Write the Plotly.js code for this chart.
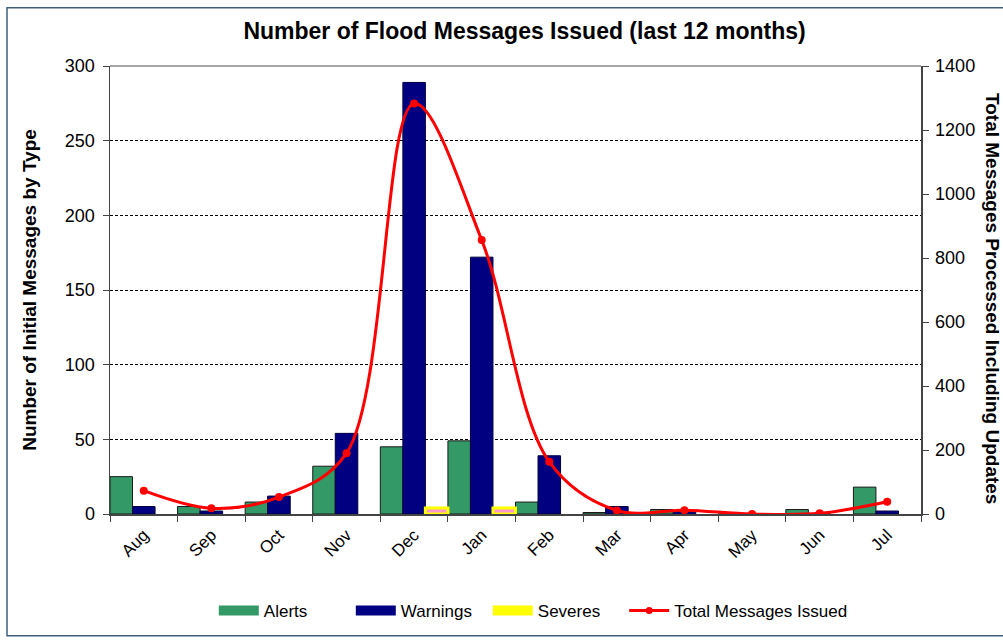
<!DOCTYPE html>
<html>
<head>
<meta charset="utf-8">
<script src="https://cdn.plot.ly/plotly-3.0.1.min.js"></script>
<style>html,body{margin:0;padding:0;background:#fff;}#chart{width:1003px;height:641px;}</style>
</head>
<body>
<div id="chart"></div>
<script>
const months = ["Aug","Sep","Oct","Nov","Dec","Jan","Feb","Mar","Apr","May","Jun","Jul"];
const alerts = [25, 5, 8, 32, 45, 49, 8, 1, 3, 0, 3, 18];
const warnings = [5, 2, 12, 54, 289, 172, 39, 5, 2, 0, 0, 2];
const severes = [0, 0, 0, 0, 4, 4, 0, 0, 0, 0, 0, 0];
const totalIssued = [73, 18, 53, 190, 1283, 856, 163, 11, 12, 0, 2, 38];
const seriesNames = ["Alerts", "Warnings", "Severes", "Total Messages Issued"];

const FONT = "Liberation Sans, Arial, sans-serif";
const GREEN = "#339966", NAVY = "#000080", PINK = "#FF99CC", YELLOW = "#FFFF00", RED = "#FF0000";

const traces = [
  {type: "bar", name: seriesNames[0], x: months, y: alerts, showlegend: false,
   marker: {color: GREEN, line: {color: "#1a1a1a", width: 1}}},
  {type: "bar", name: seriesNames[1], x: months, y: warnings, showlegend: false,
   marker: {color: NAVY, line: {color: "#000040", width: 1}}},
  {type: "bar", name: seriesNames[2], x: months, y: severes.map(v => v > 0 ? v : null), showlegend: false,
   marker: {color: PINK, line: {color: YELLOW, width: 3}}},
  {type: "scatter", mode: "lines+markers", name: seriesNames[3], x: months, y: totalIssued,
   yaxis: "y2", line: {color: RED, width: 3, shape: "spline", smoothing: 1},
   marker: {color: RED, size: 8}, showlegend: false},
  // legend entries (no marks drawn)
  {type: "scatter", mode: "lines", name: seriesNames[0], x: [months[0]], y: [null], line: {color: GREEN, width: 10}},
  {type: "scatter", mode: "lines", name: seriesNames[1], x: [months[0]], y: [null], line: {color: NAVY, width: 10}},
  {type: "scatter", mode: "lines", name: seriesNames[2], x: [months[0]], y: [null], line: {color: YELLOW, width: 10}},
  {type: "scatter", mode: "lines+markers", name: seriesNames[3], x: [months[0]], y: [null], yaxis: "y2",
   legend: "legend2", line: {color: RED, width: 3}, marker: {color: RED, size: 7}}
];

const layout = {
  width: 1003, height: 641,
  margin: {l: 110, r: 82, t: 66, b: 127},
  paper_bgcolor: "#ffffff", plot_bgcolor: "#ffffff",
  font: {family: FONT, color: "#000", size: 16},
  barmode: "group", bargap: 0, bargroupgap: 0,
  showlegend: true,
  title: {text: "<b>Number of Flood Messages Issued (last 12 months)</b>",
          font: {family: FONT, size: 23, color: "#000"},
          x: 0.523, xref: "container", xanchor: "center", y: 0.951, yref: "container", yanchor: "middle"},
  xaxis: {type: "category", range: [-0.5, 11.5], tickson: "boundaries", ticks: "outside", ticklen: 6, tickcolor: "#444",
          showline: true, linecolor: "#444", linewidth: 1.5, showgrid: false,
          tickangle: -45, tickfont: {family: FONT, size: 17}, ticklabelstandoff: 3, fixedrange: true},
  yaxis: {range: [0, 300], dtick: 50, ticks: "outside", ticklen: 6, tickcolor: "#444",
          showline: true, linecolor: "#444", linewidth: 1.5,
          showgrid: true, gridcolor: "#000", gridwidth: 1, griddash: "3px,2px",
          zeroline: false, tickfont: {family: FONT, size: 18}, ticklabelstandoff: 4,
          title: {text: "<b>Number of Initial Messages by Type</b>", font: {family: FONT, size: 19}, standoff: 23}},
  yaxis2: {range: [0, 1400], dtick: 200, overlaying: "y", side: "right", ticks: "outside", ticklen: 6, tickcolor: "#444",
           showline: true, linecolor: "#444", linewidth: 1.5, showgrid: false, zeroline: false,
           tickfont: {family: FONT, size: 18}, ticklabelstandoff: 3},
  legend: {orientation: "h", x: 0.128, xanchor: "left", y: -0.2165, yanchor: "middle",
           font: {family: FONT, size: 17}, itemwidth: 40, entrywidth: 82, traceorder: "normal"},
  legend2: {orientation: "h", x: 0.634, xanchor: "left", y: -0.2165, yanchor: "middle",
            font: {family: FONT, size: 17}, itemwidth: 40},
  annotations: [
    {text: "<b>Total Messages Processed Including Updates</b>", textangle: 90,
     xref: "paper", yref: "paper", x: 1.0875, y: 0.48, xanchor: "center", yanchor: "middle",
     showarrow: false, font: {family: FONT, size: 19, color: "#000"}}
  ],
  shapes: [
    {type: "line", xref: "paper", yref: "paper", x0: 0, x1: 1, y0: 1, y1: 1, line: {color: "#888", width: 1.5}},
    {type: "rect", xref: "paper", yref: "paper", x0: -0.127, x1: 1.12, y0: -0.272, y1: 1.13,
     line: {color: "#3d5f7c", width: 1.5}, layer: "below"}
  ]
};

Plotly.newPlot("chart", traces, layout, {displayModeBar: false, staticPlot: true});
</script>
</body>
</html>
